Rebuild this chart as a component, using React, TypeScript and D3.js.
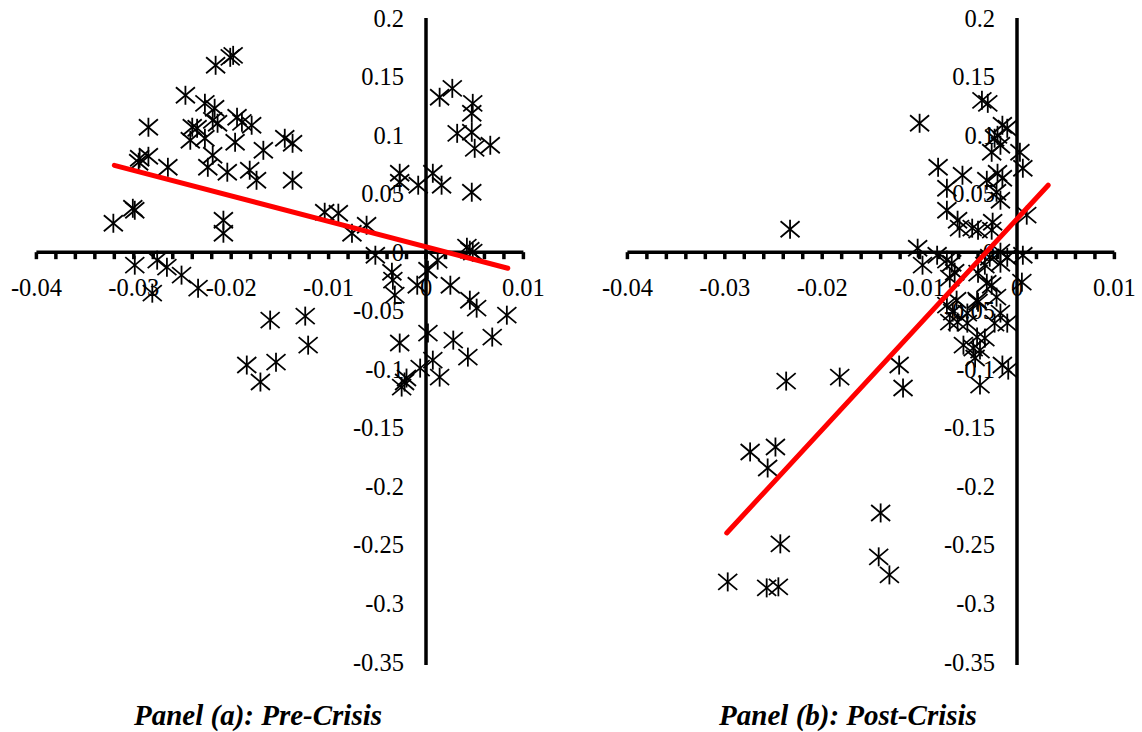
import React from "react";
import * as d3 from "d3";

// ---- Data (x = first value, y = second value) ----
const preCrisis: [number, number][] = [
  [-0.0201, 0.1664], [-0.0198, 0.1681], [-0.0216, 0.1596], [-0.0247, 0.134], [-0.0227, 0.1271],
  [-0.0217, 0.1229], [-0.0285, 0.1067], [-0.024, 0.1067], [-0.0235, 0.1058], [-0.0219, 0.1126],
  [-0.0214, 0.1101], [-0.0194, 0.1152], [-0.0189, 0.1109], [-0.0179, 0.1084], [-0.0242, 0.0956],
  [-0.0227, 0.0973], [-0.0196, 0.0939], [-0.0167, 0.087], [-0.0145, 0.0973], [-0.0137, 0.093],
  [-0.0219, 0.0828], [-0.0294, 0.0802], [-0.0285, 0.0819], [-0.0295, 0.0768], [-0.0265, 0.0725],
  [-0.0224, 0.0725], [-0.0204, 0.0683], [-0.0181, 0.07], [-0.0174, 0.0614], [-0.0137, 0.0614],
  [-0.0321, 0.0247], [-0.0301, 0.0375], [-0.0299, 0.0358], [-0.0208, 0.0273], [-0.0208, 0.0162],
  [-0.0299, -0.0111], [-0.0276, -0.0068], [-0.0266, -0.0128], [-0.0251, -0.0196], [-0.0234, -0.0307],
  [-0.0281, -0.035], [-0.016, -0.058], [-0.0124, -0.0546], [-0.0121, -0.0794], [-0.0184, -0.0964],
  [-0.017, -0.1109], [-0.0154, -0.0939], [0.0014, 0.1323], [0.0027, 0.1399], [0.0048, 0.1271],
  [0.0047, 0.1186], [0.0032, 0.1015], [0.0047, 0.1024], [0.005, 0.0887], [0.0066, 0.0913],
  [-0.0027, 0.0674], [-0.0027, 0.0597], [-0.0008, 0.0572], [0.0007, 0.0674], [0.0016, 0.0572],
  [0.0047, 0.0512], [-0.0104, 0.0341], [-0.009, 0.0333], [-0.0076, 0.0162], [-0.0061, 0.023],
  [-0.0052, -0.0026], [-0.0035, -0.0171], [-0.0034, -0.0239], [-0.0032, -0.0367], [-0.0009, -0.0282],
  [0.0002, -0.0154], [0.0012, -0.0068], [0.0025, -0.0282], [0.0042, 0.0043], [0.0045, 0.0017],
  [0.0048, 0.0], [0.0045, -0.041], [0.0052, -0.0478], [0.0083, -0.0538], [-0.0027, -0.0776],
  [-0.0022, -0.1109], [-0.0025, -0.1152], [-0.002, -0.1075], [-0.0006, -0.099], [0.0002, -0.0691],
  [0.0007, -0.0922], [0.0014, -0.1067], [0.0028, -0.0751], [0.0043, -0.0896], [0.0068, -0.0725],
];

const postCrisis: [number, number][] = [
  [-0.0233, 0.0196], [-0.0297, -0.2816], [-0.0257, -0.2867], [-0.0245, -0.2858], [-0.0243, -0.2491],
  [-0.0274, -0.1706], [-0.0248, -0.1664], [-0.0256, -0.1843], [-0.0237, -0.1101], [-0.0182, -0.1067],
  [-0.0121, -0.0964], [-0.0117, -0.116], [-0.014, -0.2227], [-0.0142, -0.2602], [-0.0131, -0.2756],
  [-0.01, 0.1101], [-0.0036, 0.1297], [-0.003, 0.1271], [-0.0015, 0.1084], [-0.001, 0.1058],
  [-0.002, 0.0998], [-0.0023, 0.0973], [-0.0026, 0.0853], [-0.0017, 0.0913], [0.0003, 0.0853],
  [0.0006, 0.0717], [-0.0081, 0.0725], [-0.0056, 0.0657], [-0.0031, 0.0614], [-0.002, 0.0674],
  [-0.0015, 0.0631], [-0.0072, 0.0546], [-0.0021, 0.0512], [-0.0017, 0.0444], [-0.0072, 0.0358],
  [-0.0061, 0.0273], [-0.0059, 0.0205], [-0.0046, 0.0205], [-0.004, 0.0188], [-0.0026, 0.0188],
  [-0.0025, 0.0256], [0.001, 0.0316], [-0.0102, 0.0034], [-0.0097, -0.0111], [-0.0082, -0.0026],
  [-0.0072, -0.0068], [-0.0067, -0.0094], [-0.0064, -0.0171], [-0.0069, -0.0222], [-0.004, -0.0179],
  [-0.0033, -0.0111], [-0.0028, -0.0043], [-0.0017, 0.0], [-0.0017, -0.0094], [-0.001, -0.0043],
  [0.0006, -0.0026], [-0.0031, -0.0265], [0.0005, -0.0256], [-0.0026, -0.0282], [-0.0041, -0.041],
  [-0.0021, -0.0384], [-0.0062, -0.041], [-0.0072, -0.0452], [-0.0066, -0.0512], [-0.0069, -0.0597],
  [-0.0061, -0.0597], [-0.0051, -0.0606], [-0.004, -0.0427], [-0.0017, -0.052], [-0.0023, -0.0606],
  [-0.001, -0.0606], [-0.0051, -0.052], [-0.0041, -0.0725], [-0.0033, -0.0734], [-0.0055, -0.0794],
  [-0.0045, -0.0819], [-0.0038, -0.0836], [-0.0043, -0.0904], [-0.0015, -0.0964], [-0.0009, -0.1007],
  [-0.0038, -0.1135],
];

// fitted trend lines (endpoints)
const preFit: [number, number][] = [[-0.032, 0.0742], [0.0084, -0.0137]];
const postFit: [number, number][] = [[-0.0298, -0.2398], [0.0032, 0.0572]];

const xTicks = [-0.04, -0.03, -0.02, -0.01, 0, 0.01];
const xTickLabels = ["-0.04", "-0.03", "-0.02", "-0.01", "0", "0.01"];
const yTicks = [0.2, 0.15, 0.1, 0.05, 0, -0.05, -0.1, -0.15, -0.2, -0.25, -0.3, -0.35];
const yTickLabels = ["0.2", "0.15", "0.1", "0.05", "0", "-0.05", "-0.1", "-0.15", "-0.2", "-0.25", "-0.3", "-0.35"];
const minorStep = 0.002;

const panelTitles = ["Panel (a): Pre-Crisis", "Panel (b): Post-Crisis"];

const FONT = "'Liberation Serif', 'Times New Roman', serif";

function Star({ x, y }: { x: number; y: number }) {
  const h = 9.5, w = 9.5, d = 8;
  return (
    <g transform={`translate(${x},${y})`} stroke="#000" strokeWidth={1.8} fill="none">
      <line x1={0} y1={-h} x2={0} y2={h} />
      <line x1={-w} y1={-d} x2={w} y2={d} />
      <line x1={-w} y1={d} x2={w} y2={-d} />
    </g>
  );
}

function Panel({
  data, fit, x0, x1, title, titleX,
}: {
  data: [number, number][]; fit: [number, number][]; x0: number; x1: number; title: string; titleX: number;
}) {
  const x = d3.scaleLinear().domain([-0.04, 0.01]).range([x0, x1]);
  const y = d3.scaleLinear().domain([0.2, -0.35]).range([18, 662]);
  const minor = d3.range(-0.04, 0.0101, minorStep);
  const line = d3.line<[number, number]>().x((d) => x(d[0])).y((d) => y(d[1]));
  const ax = x(0);
  const ay = y(0);
  return (
    <g>
      {yTicks.map((t, i) => (
        <text key={"y" + i} x={ax - 22} y={y(t)} textAnchor="end" dominantBaseline="central"
          fontFamily={FONT} fontSize={24.5} fill="#000">{yTickLabels[i]}</text>
      ))}
      {xTicks.map((t, i) => (
        <text key={"x" + i} x={x(t)} y={ay + 35} textAnchor="middle" dominantBaseline="central"
          fontFamily={FONT} fontSize={24.5} fill="#000">{xTickLabels[i]}</text>
      ))}
      <line x1={x(-0.04)} x2={x(0.01)} y1={ay} y2={ay} stroke="#000" strokeWidth={3.5} />
      {minor.map((t, i) => (
        <line key={"m" + i} x1={x(t)} x2={x(t)} y1={ay} y2={ay + 7} stroke="#000" strokeWidth={3.5} />
      ))}
      <line x1={ax} x2={ax} y1={y(0.2)} y2={y(-0.35) + 3} stroke="#000" strokeWidth={3.5} />
      {data.map((d, i) => (
        <Star key={"p" + i} x={x(d[0])} y={y(d[1])} />
      ))}
      <path d={line(fit) || ""} stroke="#ff0000" strokeWidth={5} fill="none" strokeLinecap="round" />
      <text x={titleX} y={715} textAnchor="middle" dominantBaseline="central" fontFamily={FONT}
        fontSize={29} fontWeight="bold" fontStyle="italic" fill="#000">{title}</text>
    </g>
  );
}

export default function App() {
  return (
    <svg width={1142} height={732} style={{ position: "absolute", left: 0, top: 0, background: "#fff" }}>
      <rect x={0} y={0} width={1142} height={732} fill="#fff" />
      <Panel data={preCrisis} fit={preFit} x0={36.4} x1={523.4} title={panelTitles[0]} titleX={258} />
      <Panel data={postCrisis} fit={postFit} x0={627.4} x1={1114.4} title={panelTitles[1]} titleX={848} />
    </svg>
  );
}
